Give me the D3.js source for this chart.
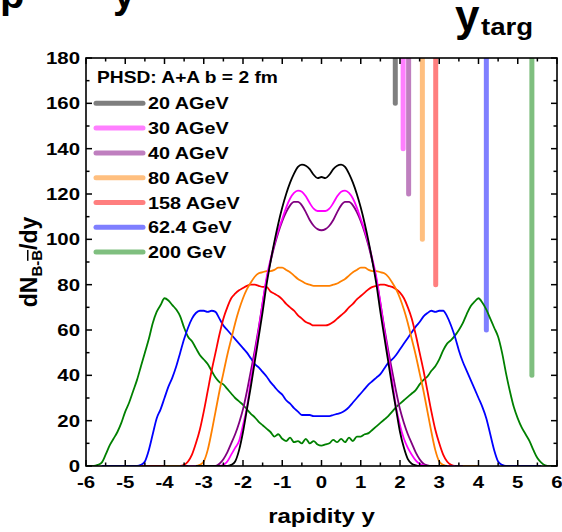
<!DOCTYPE html>
<html><head><meta charset="utf-8">
<script src="https://cdn.jsdelivr.net/npm/d3@7"></script>
<style>html,body{margin:0;padding:0;background:#fff;}svg{display:block;}</style>
</head><body>
<script>
// ---------------- data ----------------
const seriesNames = ["20 AGeV","30 AGeV","40 AGeV","80 AGeV","158 AGeV","62.4 GeV","200 GeV"];
const seriesColors = ["#000000","#ff00ff","#800080","#ff8000","#ff0000","#0000ff","#008000"];
const yTarg = [1.88, 2.08, 2.22, 2.57, 2.91, 4.20, 5.36];
const yTargBottom = [160, 140, 120, 100, 80, 60, 40];

const x20 = [-3.2,-2.4,-2.3,-2.2,-2.1,-2.0,-1.9,-1.8,-1.7,-1.6,-1.5,-1.4,-1.3,-1.2,-1.1,-1.0,-0.9,-0.8,-0.7,-0.6,-0.5,-0.4,-0.3,-0.2,-0.1,0,0.1,0.2,0.3,0.4,0.5,0.6,0.7,0.8,0.9,1.0,1.1,1.2,1.3,1.4,1.5,1.6,1.7,1.8,1.9,2.0,2.1,2.2,2.3,2.4,2.5,3.2];
const v20 = [0,0,0.5,2,7,15,25,35,46,57,68,80,90,99,107,114,120,125,129,132,133,132.5,131,128.5,127,127.5,127,128.5,131,132.5,133,132,129,125,120,114,107,99,90,80,68,57,46,35,25,15,8,3,1,0.3,0,0];

const x30 = [-3.4,-2.6,-2.5,-2.4,-2.3,-2.2,-2.1,-2.0,-1.9,-1.8,-1.7,-1.6,-1.5,-1.4,-1.3,-1.2,-1.1,-1.0,-0.9,-0.8,-0.7,-0.6,-0.5,-0.4,-0.3,-0.2,-0.1,0,0.1,0.2,0.3,0.4,0.5,0.6,0.7,0.8,0.9,1.0,1.1,1.2,1.3,1.4,1.5,1.6,1.7,1.8,1.9,2.0,2.1,2.2,2.3,2.4,2.5,2.6,2.7,3.4];
const v30 = [0,0,0.5,2,5,8,11,18,26,38,49,60,72,83,91,98,104,109,114,118,120.5,121.5,121,119,116,113.5,112.5,112.5,112.5,113.5,116,119,121,121.5,120.5,118,114,109,104,98,91,83,72,60,49,38,26,18,12,8,5,2.5,1,0.3,0,0];

const x40 = [-3.6,-2.7,-2.6,-2.5,-2.4,-2.3,-2.2,-2.1,-2.0,-1.9,-1.8,-1.7,-1.6,-1.5,-1.4,-1.3,-1.2,-1.1,-1.0,-0.9,-0.8,-0.7,-0.6,-0.5,-0.4,-0.3,-0.2,-0.1,0,0.1,0.2,0.3,0.4,0.5,0.6,0.7,0.8,0.9,1.0,1.1,1.2,1.3,1.4,1.5,1.6,1.7,1.8,1.9,2.0,2.1,2.2,2.3,2.4,2.5,2.6,2.7,2.8,3.6];
const v40 = [0,0,1,3,6,10,14,19,25,33,42,51,61,72,82,90,97,103,108,112,115,116.5,116.5,115,112,108.5,106,104.5,104,104.5,106,108.5,112,115,116.5,116.5,115,112,108,103,97,90,82,72,61,51,42,33,25,19,14,10,6,3,1,0.3,0,0];

const x80 = [-4.0,-3.2,-3.1,-3.0,-2.9,-2.8,-2.7,-2.6,-2.5,-2.4,-2.3,-2.2,-2.1,-2.0,-1.9,-1.8,-1.7,-1.6,-1.5,-1.4,-1.3,-1.2,-1.1,-1.0,-0.9,-0.8,-0.7,-0.6,-0.5,-0.4,-0.3,-0.2,-0.1,0,0.1,0.2,0.3,0.4,0.5,0.6,0.7,0.8,0.9,1.0,1.1,1.2,1.3,1.4,1.5,1.6,1.7,1.8,1.9,2.0,2.1,2.2,2.3,2.4,2.5,2.6,2.7,2.8,2.9,3.0,3.1,3.2,4.0];
const v80 = [0,0,0.5,2,7,15,24,33,41,49,56,63,69,74,78,81,83.5,85,85.5,86,86,86.5,87.5,87.5,86.5,85.5,84,82.5,81.5,80.5,80,79.5,79.5,79.5,79.5,79.5,80,80.5,81.5,82.5,84,85.5,86.5,87.5,87.5,86.5,86,86,85.5,85,83.5,81,78,74,69,63,56,49,41,33,24,15,7,2,0.5,0,0];

const x158 = [-4.6,-3.6,-3.5,-3.4,-3.3,-3.2,-3.1,-3.0,-2.9,-2.8,-2.7,-2.6,-2.5,-2.4,-2.3,-2.2,-2.1,-2.0,-1.9,-1.8,-1.7,-1.6,-1.5,-1.4,-1.3,-1.2,-1.1,-1.0,-0.9,-0.8,-0.7,-0.6,-0.5,-0.4,-0.3,-0.2,-0.1,0,0.1,0.2,0.3,0.4,0.5,0.6,0.7,0.8,0.9,1.0,1.1,1.2,1.3,1.4,1.5,1.6,1.7,1.8,1.9,2.0,2.1,2.2,2.3,2.4,2.5,2.6,2.7,2.8,2.9,3.0,3.1,3.2,3.3,3.4,3.5,3.6,4.6];
const v158 = [0,0,0.5,2,5,10,16,24,33,42,50,58,65,70,74,76,77.5,78.5,79.5,80,80,79.5,79,79,77,76,75,73.5,71.5,70,68.5,66.5,65,63.5,62.8,62,62,62,62,62.5,63.5,65,66.5,68,70,71.5,73.5,75,76.5,78,79,79.5,80,80,79.5,79,78,76.5,74,70,65,58,50,42,33,24,16,10,5,2,0.5,0,0];

const x624 = [-5.6,-4.7,-4.6,-4.5,-4.4,-4.3,-4.2,-4.1,-4.0,-3.9,-3.8,-3.7,-3.6,-3.5,-3.4,-3.3,-3.2,-3.1,-3.0,-2.9,-2.8,-2.7,-2.6,-2.5,-2.4,-2.3,-2.2,-2.1,-2.0,-1.9,-1.8,-1.7,-1.6,-1.5,-1.4,-1.3,-1.2,-1.1,-1.0,-0.9,-0.8,-0.7,-0.6,-0.5,-0.4,-0.3,-0.2,-0.1,0,0.1,0.2,0.3,0.4,0.5,0.6,0.7,0.8,0.9,1.0,1.1,1.2,1.3,1.4,1.5,1.6,1.7,1.8,1.9,2.0,2.1,2.2,2.3,2.4,2.5,2.6,2.7,2.8,2.9,3.0,3.1,3.2,3.3,3.4,3.5,3.6,3.7,3.8,3.9,4.0,4.1,4.2,4.3,4.4,4.5,4.6,4.7,5.6];
const v624 = [0,0,0.5,2,7,14,21,25,30,35,39,44,50,56,61,65,67.5,68.5,68.5,68,68.5,68,65,62,60,58,56,54,52,50,47.5,45,43.5,41.5,39.5,37,35,33,31.5,29,27.5,25.5,24,22.5,22.5,22.5,22,22,22,22,22,22.5,23,23.5,24.5,26,28,30,32,34,36,37.5,39,40.5,43,45.5,47,49,51.5,54,56.5,59,61.5,63.5,66,67.5,68.5,68,68.5,68.5,66,62,57,51,46,42,38,34,30,26,21,14,7,2,0.5,0,0];

const x200 = [-6.0,-5.8,-5.7,-5.6,-5.5,-5.4,-5.3,-5.2,-5.1,-5.0,-4.9,-4.8,-4.7,-4.6,-4.5,-4.4,-4.3,-4.2,-4.1,-4.0,-3.9,-3.8,-3.7,-3.6,-3.5,-3.4,-3.3,-3.2,-3.1,-3.0,-2.9,-2.8,-2.7,-2.6,-2.5,-2.4,-2.3,-2.2,-2.1,-2.0,-1.9,-1.8,-1.7,-1.6,-1.5,-1.4,-1.3,-1.2,-1.1,-1.0,-0.9,-0.8,-0.7,-0.6,-0.5,-0.4,-0.3,-0.2,-0.1,0,0.1,0.2,0.3,0.4,0.5,0.6,0.7,0.8,0.9,1.0,1.1,1.2,1.3,1.4,1.5,1.6,1.7,1.8,1.9,2.0,2.1,2.2,2.3,2.4,2.5,2.6,2.7,2.8,2.9,3.0,3.1,3.2,3.3,3.4,3.5,3.6,3.7,3.8,3.9,4.0,4.1,4.2,4.3,4.4,4.5,4.6,4.7,4.8,4.9,5.0,5.1,5.2,5.3,5.4,5.5,5.6,5.7,5.8,6.0];
const v200 = [0,0,0.5,1.5,5,9,12,15,19,24,28,33,38,44,50,56,63,68,71,74,73,71,69,66,61,57,55,52,49,47,45,42,39,37,36,34,32,30,28.5,27,25,23,21.5,19.5,18,16.5,15,13,14,12,11,12.5,10.5,11,10,12,10,11,9.5,9,9.5,10,11.5,10.5,12,10.5,12.5,11,13,13,14,14.5,16,17.5,19,20.5,22,24,26,27.5,29,30.5,32,33.5,36,38,39.5,42,44,47,51,54,55.5,57.5,60,63,67,70.5,72.5,74,72,69,65,61,57,50,41,33,26,21,17,14,11,7,3.5,1.5,0.3,0,0];

const seriesX = [x20, x30, x40, x80, x158, x624, x200];
const seriesV = [v20, v30, v40, v80, v158, v624, v200];

const xTicks = [-6,-5,-4,-3,-2,-1,0,1,2,3,4,5,6];
const yTicks = [0,20,40,60,80,100,120,140,160,180];
const legendTitle = "PHSD: A+A b = 2 fm";
const topFragments = ["p", "y"];   // only these glyph fragments of a cropped title are visible

// ---------------- chart ----------------
const W = 562, H = 532;
const L = 86, R = 557, T = 58, B = 466;
const FONT = "'Liberation Sans', Arial, Helvetica, sans-serif";
const SX = 1.2;

const svg = d3.select("body").append("svg").attr("width", W).attr("height", H);
const x = d3.scaleLinear().domain([-6, 6]).range([L, R]);
const y = d3.scaleLinear().domain([0, 180]).range([B, T]);

function stext(str, px, py, size, anchor, sx) {
  return svg.append("text")
    .attr("transform", `translate(${px},${py}) scale(${sx === undefined ? SX : sx},1)`)
    .attr("text-anchor", anchor || "start")
    .attr("font-family", FONT).attr("font-weight", "bold")
    .attr("font-size", size).attr("fill", "#000").text(str);
}

// clipped plot area
svg.append("defs").append("clipPath").attr("id", "clip")
  .append("rect").attr("x", L).attr("y", T).attr("width", R - L).attr("height", B - T);
const plot = svg.append("g").attr("clip-path", "url(#clip)");

// y_targ bars
yTarg.forEach((yt, i) => {
  plot.append("line")
    .attr("x1", x(yt)).attr("x2", x(yt))
    .attr("y1", y(180) - 5).attr("y2", y(yTargBottom[i]))
    .attr("stroke", seriesColors[i]).attr("stroke-opacity", 0.5)
    .attr("stroke-width", 5).attr("stroke-linecap", "round");
});

// curves (draw wide ones first)
const line = d3.line().x(d => x(d[0])).y(d => y(d[1])).curve(d3.curveMonotoneX);
for (let i = seriesX.length - 1; i >= 0; i--) {
  const pts = seriesX[i].map((xv, j) => [xv, seriesV[i][j]]);
  plot.append("path").attr("d", line(pts)).attr("fill", "none")
    .attr("stroke", seriesColors[i]).attr("stroke-width", 1.8)
    .attr("stroke-linejoin", "round");
}

// axes with inward ticks on all sides
const axG = svg.append("g").attr("stroke", "#000").attr("stroke-width", 1.5);
const xMinor = d3.range(-5.5, 6, 1);
const yMinor = d3.range(10, 180, 20);
xTicks.forEach(t => {
  axG.append("line").attr("x1", x(t)).attr("x2", x(t)).attr("y1", B).attr("y2", B - 6);
  axG.append("line").attr("x1", x(t)).attr("x2", x(t)).attr("y1", T).attr("y2", T + 6);
});
xMinor.forEach(t => {
  axG.append("line").attr("x1", x(t)).attr("x2", x(t)).attr("y1", B).attr("y2", B - 3.5);
  axG.append("line").attr("x1", x(t)).attr("x2", x(t)).attr("y1", T).attr("y2", T + 3.5);
});
yTicks.forEach(t => {
  axG.append("line").attr("x1", L).attr("x2", L + 6).attr("y1", y(t)).attr("y2", y(t));
  axG.append("line").attr("x1", R).attr("x2", R - 6).attr("y1", y(t)).attr("y2", y(t));
});
yMinor.forEach(t => {
  axG.append("line").attr("x1", L).attr("x2", L + 3.5).attr("y1", y(t)).attr("y2", y(t));
  axG.append("line").attr("x1", R).attr("x2", R - 3.5).attr("y1", y(t)).attr("y2", y(t));
});
svg.append("rect").attr("x", L).attr("y", T).attr("width", R - L).attr("height", B - T)
  .attr("fill", "none").attr("stroke", "#000").attr("stroke-width", 1.6);

// tick labels
xTicks.forEach(t => stext(String(t), x(t), 488, 17, "middle"));
yTicks.forEach(t => stext(String(t), 80, y(t) + 6, 17, "end"));

// axis titles
stext("rapidity y", (L + R) / 2, 523, 20, "middle");
const yl = svg.append("text")
  .attr("transform", "translate(37,262) rotate(-90)")
  .attr("text-anchor", "middle")
  .attr("font-family", FONT).attr("font-weight", "bold").attr("font-size", 23);
yl.append("tspan").text("dN");
yl.append("tspan").attr("font-size", 15).attr("dy", 5).text("B-");
yl.append("tspan").attr("font-size", 15).style("text-decoration", "overline").text("B");
yl.append("tspan").attr("dy", -5).text("/dy");

// legend
stext(legendTitle, 97, 83, 16, "start");
seriesNames.forEach((n, i) => {
  const cy = 103.3 + i * 24.8;
  svg.append("line").attr("x1", 96).attr("x2", 143).attr("y1", cy).attr("y2", cy)
    .attr("stroke", seriesColors[i]).attr("stroke-opacity", 0.5)
    .attr("stroke-width", 5).attr("stroke-linecap", "round");
  stext(n, 148, cy + 6, 16.5, "start");
});

// y_targ label
stext("y", 455, 31, 44, "start", 1.0);
stext("targ", 481, 35, 24, "start", 1.15);

// cropped title fragments at the very top
stext(topFragments[0], 0, 8, 40, "start", 1.0);
stext(topFragments[1], 113, 8, 40, "start", 1.0);
</script>
</body></html>
